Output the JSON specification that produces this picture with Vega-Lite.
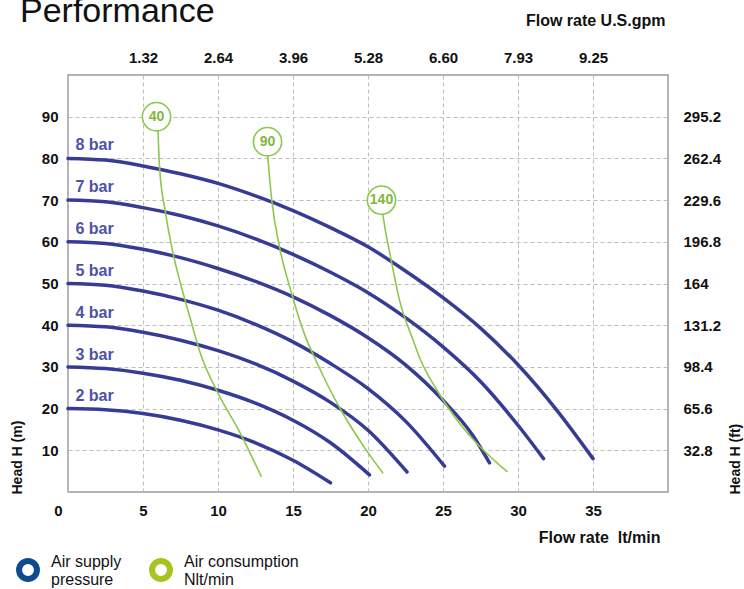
{
  "$schema": "https://vega.github.io/schema/vega-lite/v6.json",
  "width": 600,
  "height": 417,
  "autosize": {"type": "none"},
  "padding": {"left": 68, "top": 75, "right": 76, "bottom": 97},
  "background": "white",
  "title": {
    "text": "Performance",
    "anchor": "start",
    "frame": "group",
    "font": "Liberation Sans",
    "fontSize": 34,
    "fontWeight": "normal",
    "color": "#111111",
    "baseline": "alphabetic",
    "dx": -48,
    "dy": 44,
    "offset": 0
  },
  "config": {
    "view": {"stroke": "#9a9a9a", "strokeWidth": 1.5},
    "axis": {
      "labelFont": "Liberation Sans",
      "labelFontWeight": "bold",
      "labelFontSize": 15,
      "labelColor": "#111111",
      "titleFont": "Liberation Sans",
      "titleFontWeight": "bold",
      "titleFontSize": 16,
      "titleColor": "#111111",
      "domain": false,
      "ticks": false,
      "gridColor": "#bdbdbd",
      "gridDash": [4, 3],
      "gridWidth": 1
    }
  },
  "datasets": {
    "pressure": [
      {"bar": "8 bar", "x": 0, "y": 80}, {"bar": "8 bar", "x": 2.5, "y": 79.6}, {"bar": "8 bar", "x": 5, "y": 78.2}, {"bar": "8 bar", "x": 7.5, "y": 76.3}, {"bar": "8 bar", "x": 10, "y": 74}, {"bar": "8 bar", "x": 12.5, "y": 71}, {"bar": "8 bar", "x": 15, "y": 67.5}, {"bar": "8 bar", "x": 17.5, "y": 63.4}, {"bar": "8 bar", "x": 20, "y": 58.8}, {"bar": "8 bar", "x": 22.5, "y": 53}, {"bar": "8 bar", "x": 25, "y": 46.6}, {"bar": "8 bar", "x": 27.5, "y": 39.3}, {"bar": "8 bar", "x": 30, "y": 30.5}, {"bar": "8 bar", "x": 32.5, "y": 20}, {"bar": "8 bar", "x": 35, "y": 8},
      {"bar": "7 bar", "x": 0, "y": 70}, {"bar": "7 bar", "x": 2.5, "y": 69.6}, {"bar": "7 bar", "x": 5, "y": 68.2}, {"bar": "7 bar", "x": 7.5, "y": 66.3}, {"bar": "7 bar", "x": 10, "y": 63.8}, {"bar": "7 bar", "x": 12.5, "y": 60.7}, {"bar": "7 bar", "x": 15, "y": 57}, {"bar": "7 bar", "x": 17.5, "y": 52.7}, {"bar": "7 bar", "x": 20, "y": 47.8}, {"bar": "7 bar", "x": 22.5, "y": 41.8}, {"bar": "7 bar", "x": 25, "y": 34.8}, {"bar": "7 bar", "x": 27.5, "y": 26.5}, {"bar": "7 bar", "x": 30, "y": 16}, {"bar": "7 bar", "x": 31.7, "y": 8},
      {"bar": "6 bar", "x": 0, "y": 60}, {"bar": "6 bar", "x": 2.5, "y": 59.6}, {"bar": "6 bar", "x": 5, "y": 58.2}, {"bar": "6 bar", "x": 7.5, "y": 56.2}, {"bar": "6 bar", "x": 10, "y": 53.6}, {"bar": "6 bar", "x": 12.5, "y": 50.5}, {"bar": "6 bar", "x": 15, "y": 46.8}, {"bar": "6 bar", "x": 17.5, "y": 42.3}, {"bar": "6 bar", "x": 20, "y": 37}, {"bar": "6 bar", "x": 22.5, "y": 30.5}, {"bar": "6 bar", "x": 25, "y": 22}, {"bar": "6 bar", "x": 27, "y": 13.5}, {"bar": "6 bar", "x": 28.1, "y": 7},
      {"bar": "5 bar", "x": 0, "y": 50}, {"bar": "5 bar", "x": 2.5, "y": 49.6}, {"bar": "5 bar", "x": 5, "y": 48.2}, {"bar": "5 bar", "x": 7.5, "y": 46.2}, {"bar": "5 bar", "x": 10, "y": 43.6}, {"bar": "5 bar", "x": 12.5, "y": 40.2}, {"bar": "5 bar", "x": 15, "y": 36}, {"bar": "5 bar", "x": 17.5, "y": 30.8}, {"bar": "5 bar", "x": 20, "y": 24.8}, {"bar": "5 bar", "x": 22.5, "y": 17}, {"bar": "5 bar", "x": 25.1, "y": 6.2},
      {"bar": "4 bar", "x": 0, "y": 40}, {"bar": "4 bar", "x": 2.5, "y": 39.6}, {"bar": "4 bar", "x": 5, "y": 38.3}, {"bar": "4 bar", "x": 7.5, "y": 36.4}, {"bar": "4 bar", "x": 10, "y": 33.9}, {"bar": "4 bar", "x": 12.5, "y": 30.7}, {"bar": "4 bar", "x": 15, "y": 26.6}, {"bar": "4 bar", "x": 17.5, "y": 21.5}, {"bar": "4 bar", "x": 20, "y": 14.8}, {"bar": "4 bar", "x": 22.6, "y": 4.8},
      {"bar": "3 bar", "x": 0, "y": 30}, {"bar": "3 bar", "x": 2.5, "y": 29.6}, {"bar": "3 bar", "x": 5, "y": 28.5}, {"bar": "3 bar", "x": 7.5, "y": 26.8}, {"bar": "3 bar", "x": 10, "y": 24.4}, {"bar": "3 bar", "x": 12.5, "y": 21.3}, {"bar": "3 bar", "x": 15, "y": 17.2}, {"bar": "3 bar", "x": 17.5, "y": 11.8}, {"bar": "3 bar", "x": 20.1, "y": 4.1},
      {"bar": "2 bar", "x": 0, "y": 20}, {"bar": "2 bar", "x": 2.5, "y": 19.7}, {"bar": "2 bar", "x": 5, "y": 18.8}, {"bar": "2 bar", "x": 7.5, "y": 17.2}, {"bar": "2 bar", "x": 10, "y": 14.9}, {"bar": "2 bar", "x": 12.5, "y": 11.8}, {"bar": "2 bar", "x": 15, "y": 7.6}, {"bar": "2 bar", "x": 17.5, "y": 2.2}
    ],
    "barLabels": [
      {"label": "8 bar", "x": 0.5, "y": 83.2},
      {"label": "7 bar", "x": 0.5, "y": 73.1},
      {"label": "6 bar", "x": 0.5, "y": 63},
      {"label": "5 bar", "x": 0.5, "y": 53},
      {"label": "4 bar", "x": 0.5, "y": 43},
      {"label": "3 bar", "x": 0.5, "y": 32.9},
      {"label": "2 bar", "x": 0.5, "y": 23}
    ],
    "air": [
      {"air": "40", "x": 6.0, "y": 87}, {"air": "40", "x": 6.1, "y": 78}, {"air": "40", "x": 6.5, "y": 67}, {"air": "40", "x": 7, "y": 57.3}, {"air": "40", "x": 7.5, "y": 50}, {"air": "40", "x": 8.2, "y": 41}, {"air": "40", "x": 8.8, "y": 33.5}, {"air": "40", "x": 10, "y": 23.7}, {"air": "40", "x": 11.5, "y": 14}, {"air": "40", "x": 12.9, "y": 3.6},
      {"air": "90", "x": 13.3, "y": 81}, {"air": "90", "x": 13.6, "y": 69.5}, {"air": "90", "x": 14.1, "y": 58.8}, {"air": "90", "x": 14.9, "y": 47.7}, {"air": "90", "x": 15.8, "y": 37.5}, {"air": "90", "x": 16.6, "y": 31}, {"air": "90", "x": 17.4, "y": 25}, {"air": "90", "x": 18.3, "y": 19}, {"air": "90", "x": 19.7, "y": 11}, {"air": "90", "x": 21, "y": 4.5},
      {"air": "140", "x": 20.95, "y": 67.5}, {"air": "140", "x": 21.1, "y": 64}, {"air": "140", "x": 21.5, "y": 56.4}, {"air": "140", "x": 22.1, "y": 46}, {"air": "140", "x": 23, "y": 36.5}, {"air": "140", "x": 23.5, "y": 31.7}, {"air": "140", "x": 24.5, "y": 25}, {"air": "140", "x": 26.1, "y": 16.5}, {"air": "140", "x": 27.7, "y": 10}, {"air": "140", "x": 29.3, "y": 4.8}
    ],
    "airLabels": [
      {"label": "40", "x": 5.9, "y": 90},
      {"label": "90", "x": 13.3, "y": 84},
      {"label": "140", "x": 20.9, "y": 70}
    ],
    "legendRows": [
      {"kind": "Air supply|pressure", "x": 0, "y": 0},
      {"kind": "Air consumption|Nlt/min", "x": 0, "y": 0}
    ]
  },
  "resolve": {"axis": {"x": "independent", "y": "independent"}},
  "layer": [
    {
      "data": {"name": "pressure"},
      "mark": {"type": "line", "interpolate": "monotone", "color": "#363c96", "strokeWidth": 3.5, "strokeCap": "round"},
      "encoding": {
        "x": {
          "field": "x", "type": "quantitative",
          "scale": {"domain": [0, 40], "nice": false, "zero": false},
          "axis": {
            "orient": "bottom",
            "values": [0, 5, 10, 15, 20, 25, 30, 35],
            "grid": true,
            "gridDash": [4, 3],
            "labelPadding": 11,
            "labelAlign": "center",
            "labelOffset": {"condition": {"test": "datum.value === 0", "value": -10}, "value": 0},
            "title": "Flow rate\u00a0\u00a0lt/min",
            "titleAnchor": "end",
            "titleAlign": "right",
            "titleX": 592,
            "titleY": 45,
            "titleBaseline": "middle"
          }
        },
        "y": {
          "field": "y", "type": "quantitative",
          "scale": {"domain": [0, 100], "nice": false, "zero": false},
          "axis": {
            "orient": "left",
            "values": [10, 20, 30, 40, 50, 60, 70, 80, 90],
            "grid": true,
            "labelPadding": 10,
            "title": "Head H (m)",
            "titleFontSize": 14,
            "titleAngle": 270,
            "titleAlign": "left",
            "titleBaseline": "middle",
            "titleX": -51,
            "titleY": 419
          }
        },
        "detail": {"field": "bar"}
      }
    },
    {
      "data": {"name": "barLabels"},
      "mark": {"type": "text", "align": "left", "baseline": "middle", "font": "Liberation Sans", "fontWeight": "bold", "fontSize": 16, "color": "#4d52a8"},
      "encoding": {
        "x": {"field": "x", "type": "quantitative", "axis": null},
        "y": {"field": "y", "type": "quantitative", "axis": null},
        "text": {"field": "label"}
      }
    },
    {
      "data": {"name": "air"},
      "mark": {"type": "line", "interpolate": "monotone", "color": "#8cc84b", "strokeWidth": 1.6},
      "encoding": {
        "x": {
          "field": "x", "type": "quantitative",
          "axis": {
            "orient": "top",
            "values": [5, 10, 15, 20, 25, 30, 35],
            "grid": false,
            "labelPadding": 10,
            "labelExpr": "['', '1.32', '2.64', '3.96', '5.28', '6.60', '7.93', '9.25'][datum.value / 5]",
            "title": "Flow rate U.S.gpm",
            "titleAnchor": "end",
            "titleAlign": "right",
            "titleX": 597,
            "titleY": -55,
            "titleBaseline": "middle"
          }
        },
        "y": {
          "field": "y", "type": "quantitative",
          "axis": {
            "orient": "right",
            "values": [10, 20, 30, 40, 50, 60, 70, 80, 90],
            "grid": false,
            "labelPadding": 15,
            "labelExpr": "format(datum.value * 3.28, '.4~')",
            "title": "Head H (ft)",
            "titleFontSize": 14,
            "titleAngle": 270,
            "titleAlign": "left",
            "titleBaseline": "middle",
            "titleX": 67,
            "titleY": 419
          }
        },
        "detail": {"field": "air"}
      }
    },
    {
      "data": {"name": "airLabels"},
      "mark": {"type": "point", "shape": "circle", "filled": true, "fill": "white", "stroke": "#8cc84b", "strokeWidth": 1.6, "size": 800, "opacity": 1},
      "encoding": {
        "x": {"field": "x", "type": "quantitative", "axis": null},
        "y": {"field": "y", "type": "quantitative", "axis": null}
      }
    },
    {
      "data": {"name": "airLabels"},
      "mark": {"type": "text", "align": "center", "baseline": "middle", "font": "Liberation Sans", "fontWeight": "bold", "fontSize": 14, "color": "#80b83c"},
      "encoding": {
        "x": {"field": "x", "type": "quantitative", "axis": null},
        "y": {"field": "y", "type": "quantitative", "axis": null},
        "text": {"field": "label"}
      }
    },
    {
      "data": {"name": "legendRows"},
      "mark": {"type": "point", "shape": "circle", "filled": false, "opacity": 0},
      "encoding": {
        "x": {"field": "x", "type": "quantitative", "axis": null},
        "y": {"field": "y", "type": "quantitative", "axis": null},
        "stroke": {
          "field": "kind", "type": "nominal",
          "scale": {"domain": ["Air supply|pressure", "Air consumption|Nlt/min"], "range": ["#0d4a8f", "#a8c21e"]},
          "legend": {
            "orient": "none",
            "legendX": -52,
            "legendY": 483,
            "direction": "horizontal",
            "columns": 2,
            "columnPadding": 18,
            "title": null,
            "symbolType": "circle",
            "symbolSize": 320,
            "symbolStrokeWidth": 6,
            "symbolFillColor": "white",
            "symbolOpacity": 1,
            "labelFont": "Liberation Sans",
            "labelFontSize": 16,
            "labelColor": "#111111",
            "labelOffset": 11,
            "labelLimit": 250,
            "labelExpr": "split(datum.label, '|')",
            "labelBaseline": "bottom"
          }
        }
      }
    }
  ]
}
